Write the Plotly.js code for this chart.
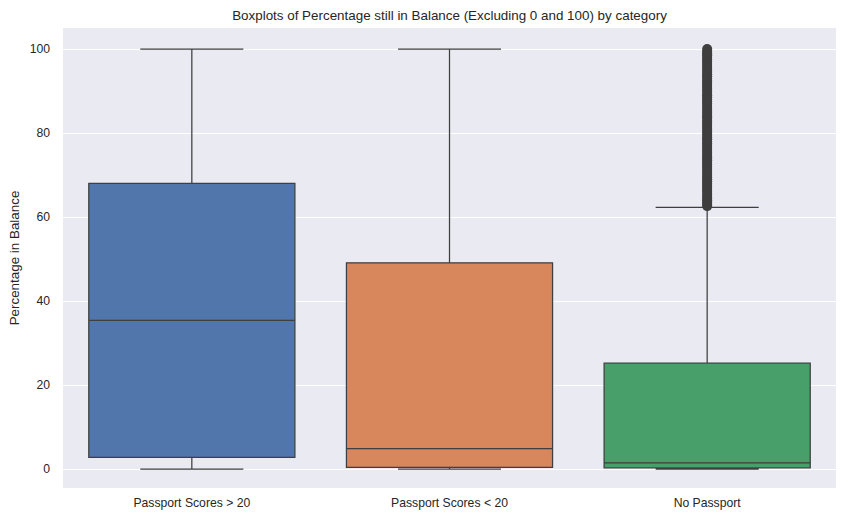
<!DOCTYPE html>
<html>
<head>
<meta charset="utf-8">
<script src="https://cdn.plot.ly/plotly-3.0.1.min.js"></script>
<style>html,body{margin:0;padding:0;background:#fff;}#chart{width:846px;height:522px;}</style>
</head>
<body>
<div id="chart"></div>
<script>
const categories = ["Passport Scores > 20", "Passport Scores < 20", "No Passport"];
const lowerfence = [0, 0, 0];
const q1 = [2.8, 0.4, 0.3];
const median = [35.4, 4.9, 1.5];
const q3 = [68.0, 49.1, 25.2];
const upperfence = [100, 100, 62.3];
const colors = ["rgb(81,118,171)", "rgb(216,134,92)", "rgb(72,159,106)"];
const outlierCategory = "No Passport";
const outlierValues = [62.6, 63, 63.5, 64, 64.5, 65, 65.5, 66, 66.5, 67, 67.5, 68, 68.5, 69, 69.5,
  70, 70.5, 71, 71.5, 72, 72.5, 73, 73.5, 74, 74.5, 75, 75.5, 76, 76.5, 77, 77.5, 78, 78.5, 79, 79.5,
  80, 80.5, 81, 81.5, 82, 82.5, 83, 83.5, 84, 84.5, 85, 85.5, 86, 86.5, 87, 87.5, 88, 88.5, 89, 89.5,
  90, 90.5, 91, 91.5, 92, 92.5, 93, 93.5, 94, 94.5, 95, 95.5, 96, 96.5, 97, 97.5, 98, 98.5, 99, 99.5, 100];

const edge = "rgb(63,63,63)";
const traces = categories.map((c, i) => ({
  type: "box",
  x: [c],
  q1: [q1[i]], median: [median[i]], q3: [q3[i]],
  lowerfence: [lowerfence[i]], upperfence: [upperfence[i]],
  fillcolor: colors[i],
  line: {color: edge, width: 1.25},
  width: 0.8,
  whiskerwidth: 0.5,
  boxpoints: false,
  hoverinfo: "skip",
  showlegend: false
}));
traces.push({
  type: "scatter", mode: "markers",
  x: outlierValues.map(() => outlierCategory),
  y: outlierValues,
  marker: {size: 10, color: edge, line: {width: 0}},
  showlegend: false, hoverinfo: "skip"
});

const layout = {
  width: 846, height: 522,
  margin: {l: 63, r: 10, t: 28, b: 34},
  paper_bgcolor: "#ffffff",
  plot_bgcolor: "#eaeaf2",
  font: {family: "Liberation Sans, Arial, sans-serif", size: 12, color: "#262626"},
  title: {text: "Boxplots of Percentage still in Balance (Excluding 0 and 100) by category",
    font: {size: 13.4, color: "#262626"}, xref: "paper", x: 0.5, xanchor: "center", y: 0.971, yanchor: "middle"},
  boxmode: "overlay",
  xaxis: {type: "category", categoryorder: "array", categoryarray: categories,
    range: [-0.5, 2.5], showgrid: false, zeroline: false, ticks: "", ticklabelstandoff: 6,
    tickfont: {size: 12.2}},
  yaxis: {range: [-4.5, 105], tickvals: [0, 20, 40, 60, 80, 100], showgrid: true,
    gridcolor: "#ffffff", gridwidth: 1, zeroline: false, ticks: "", ticklabelstandoff: 12,
    tickfont: {size: 12.2},
    title: {text: "Percentage in Balance", font: {size: 13.4}, standoff: 6}}
};
Plotly.newPlot("chart", traces, layout, {displayModeBar: false, staticPlot: true});
</script>
</body>
</html>
